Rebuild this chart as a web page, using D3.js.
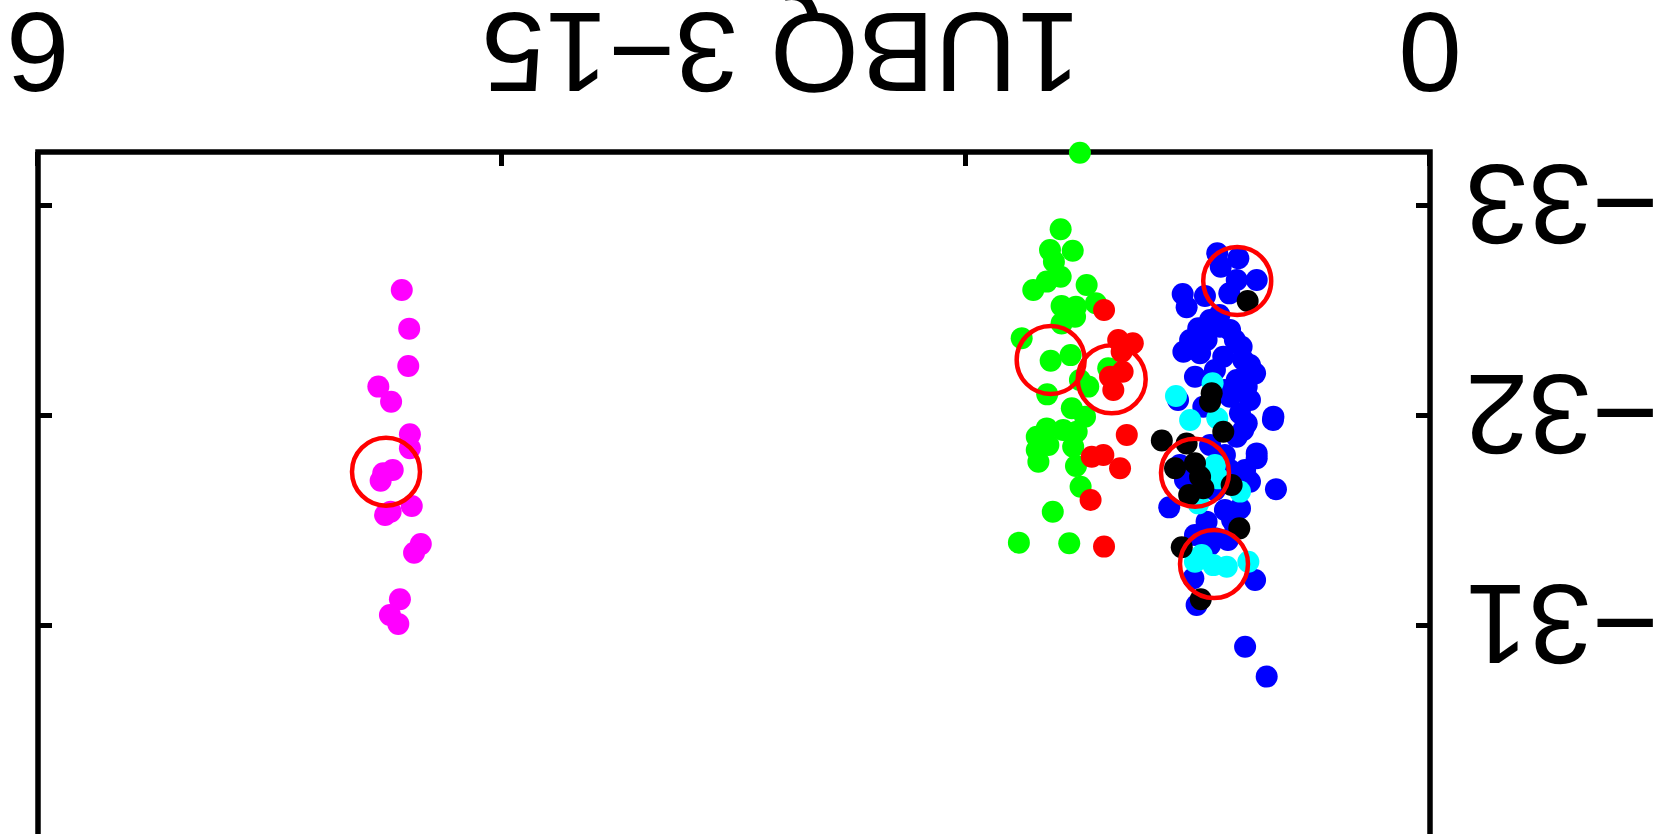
<!DOCTYPE html>
<html>
<head>
<meta charset="utf-8">
<script src="https://cdn.jsdelivr.net/npm/d3@7"></script>
<style>
  html, body { margin: 0; padding: 0; background: #fff; overflow: hidden; }
  text { font-family: "Liberation Sans", Arial, sans-serif; }
</style>
</head>
<body>
<div id="chart"></div>
<script>
// axis settings
const xTicks = [0, 2, 4, 6];
const xTickLabels = ["0", "6"];
const yTicks = [-33, -32, -31];
const xTitle = "1UBQ 3\u221215";

// [x, y] points per series
const greenPts = [
  [1.509, -33.254], [1.592, -32.889], [1.638, -32.790], [1.540, -32.787], [1.621, -32.735],
  [1.592, -32.663], [1.652, -32.640], [1.710, -32.600], [1.480, -32.624], [1.588, -32.524],
  [1.526, -32.520], [1.440, -32.537], [1.530, -32.473], [1.588, -32.441], [1.760, -32.370],
  [1.635, -32.263], [1.549, -32.290], [1.387, -32.227], [1.509, -32.171], [1.473, -32.140],
  [1.650, -32.103], [1.544, -32.037], [1.487, -31.997], [1.652, -31.941], [1.695, -31.901],
  [1.581, -31.933], [1.523, -31.925], [1.645, -31.862], [1.695, -31.838], [1.538, -31.854],
  [1.688, -31.782], [1.526, -31.762], [1.506, -31.663], [1.626, -31.544], [1.772, -31.397],
  [1.555, -31.394]
];
const redPts = [
  [1.405, -32.505], [1.344, -32.362], [1.281, -32.346], [1.329, -32.306], [1.325, -32.211],
  [1.379, -32.187], [1.365, -32.124], [1.307, -31.910], [1.408, -31.814], [1.458, -31.806],
  [1.336, -31.751], [1.463, -31.600], [1.405, -31.378]
];
const bluePts = [
  [0.917, -32.775], [0.826, -32.751], [0.902, -32.711], [0.833, -32.648], [0.747, -32.648],
  [0.865, -32.584], [1.066, -32.581], [0.970, -32.571], [1.049, -32.518], [0.908, -32.481],
  [0.999, -32.418], [0.905, -32.425], [0.963, -32.362], [0.841, -32.362], [0.812, -32.330],
  [1.063, -32.306], [0.991, -32.299], [0.891, -32.282], [0.805, -32.267], [0.754, -32.203],
  [1.013, -32.187], [0.833, -32.171], [0.790, -32.140], [0.675, -31.997], [0.819, -32.013],
  [0.790, -31.965], [0.833, -31.901], [0.747, -31.822], [0.977, -32.044], [0.862, -32.092],
  [1.124, -31.565], [0.664, -31.651], [0.747, -31.799], [0.776, -31.687], [0.819, -31.560],
  [0.884, -31.552], [0.963, -31.497], [0.927, -31.418], [0.754, -31.219], [1.020, -31.227],
  [1.006, -31.100], [0.797, -30.901], [0.704, -30.759], [0.677, -31.981], [0.805, -31.933],
  [0.927, -32.219], [0.884, -31.814], [0.862, -31.743], [0.948, -31.862], [1.056, -31.695],
  [0.776, -32.076], [0.871, -31.410], [0.841, -31.481], [1.078, -31.767], [0.927, -31.648],
  [1.086, -32.076], [0.948, -32.457], [0.862, -32.410], [1.034, -32.362], [0.776, -32.243],
  [0.884, -32.124], [0.797, -31.743], [0.853, -31.505], [0.948, -31.386], [1.013, -31.433]
];
const cyanPts = [
  [1.095, -32.095], [0.937, -32.156], [1.034, -31.981], [0.917, -31.989], [0.927, -31.767],
  [0.913, -31.703], [0.819, -31.640], [0.999, -31.584], [1.013, -31.306], [0.934, -31.290],
  [0.876, -31.282], [0.783, -31.306], [0.984, -31.338]
];
const blackPts = [
  [0.786, -32.548], [0.941, -32.108], [0.948, -32.068], [0.891, -31.925], [1.156, -31.883],
  [1.049, -31.869], [1.099, -31.751], [1.013, -31.775], [0.991, -31.711], [0.977, -31.656],
  [1.038, -31.624], [0.855, -31.671], [0.822, -31.465], [1.070, -31.375], [0.988, -31.127]
];
const magentaPts = [
  [4.432, -32.600], [4.400, -32.416], [4.404, -32.238], [4.533, -32.140], [4.478, -32.068],
  [4.397, -31.913], [4.397, -31.846], [4.471, -31.743], [4.512, -31.727], [4.523, -31.692],
  [4.389, -31.571], [4.480, -31.544], [4.504, -31.529], [4.350, -31.390], [4.379, -31.349],
  [4.440, -31.127], [4.483, -31.052], [4.447, -31.010]
];
// highlighted centres (open red rings)
const ringPts = [
  [4.500, -31.735], [1.635, -32.267], [1.372, -32.175], [0.831, -32.643], [1.013, -31.730],
  [0.931, -31.295]
];

const series = [
  { pts: greenPts, color: "#00ff00" },
  { pts: redPts, color: "#ff0000" },
  { pts: bluePts, color: "#0000ff" },
  { pts: cyanPts, color: "#00ffff" },
  { pts: blackPts, color: "#000000" },
  { pts: magentaPts, color: "#ff00ff" }
];

const W = 1664, H = 834;
const svg = d3.select("#chart").append("svg")
  .attr("width", W)
  .attr("height", H);

// the whole figure is shown turned upside down
const root = svg.append("g")
  .attr("transform", `rotate(180 ${W / 2} ${H / 2})`);

const x = d3.scaleLinear().domain([0, 6]).range([234, 1626]);
const y = d3.scaleLinear().domain([-33, -31]).range([628, 208]);
const frameBottom = 682, frameTop = -30;
const fontSize = 114;

// frame
root.append("rect")
  .attr("x", x(0))
  .attr("y", frameTop)
  .attr("width", x(6) - x(0))
  .attr("height", frameBottom - frameTop)
  .attr("fill", "none")
  .attr("stroke", "#000")
  .attr("stroke-width", 5.5);

// inward ticks
function styleAxis(g) {
  g.select(".domain").remove();
  g.selectAll(".tick line").attr("stroke", "#000").attr("stroke-width", 5);
}
root.append("g")
  .attr("transform", `translate(0,${frameBottom})`)
  .call(d3.axisBottom(x).tickValues(xTicks).tickSize(-14).tickFormat(""))
  .call(styleAxis);
root.append("g")
  .attr("transform", `translate(${x(0)},0)`)
  .call(d3.axisLeft(y).tickValues(yTicks).tickSize(-14).tickFormat(""))
  .call(styleAxis);
root.append("g")
  .attr("transform", `translate(${x(6)},0)`)
  .call(d3.axisRight(y).tickValues(yTicks).tickSize(-14).tickFormat(""))
  .call(styleAxis);

// tick labels
const labelBase = 821;
root.selectAll(".xlab")
  .data(xTickLabels)
  .join("text")
  .attr("class", "xlab")
  .attr("x", d => x(+d))
  .attr("y", labelBase)
  .attr("text-anchor", "middle")
  .attr("font-size", fontSize)
  .text(d => d);

root.append("text")
  .attr("x", 883)
  .attr("y", labelBase)
  .attr("text-anchor", "middle")
  .attr("font-size", fontSize)
  .text(xTitle);

root.selectAll(".ylab")
  .data(yTicks)
  .join("text")
  .attr("class", "ylab")
  .attr("x", 199)
  .attr("y", d => y(d) + fontSize * 0.358)
  .attr("text-anchor", "end")
  .attr("font-size", fontSize)
  .text(d => d3.format("d")(d).replace("-", "\u2212"));

// points
series.forEach(s => {
  root.append("g")
    .selectAll("circle")
    .data(s.pts)
    .join("circle")
    .attr("cx", d => x(d[0]))
    .attr("cy", d => y(d[1]))
    .attr("r", 11)
    .attr("fill", s.color);
});

// red rings
root.append("g")
  .selectAll("circle")
  .data(ringPts)
  .join("circle")
  .attr("cx", d => x(d[0]))
  .attr("cy", d => y(d[1]))
  .attr("r", 34)
  .attr("fill", "none")
  .attr("stroke", "#ff0000")
  .attr("stroke-width", 4.5);
</script>
</body>
</html>
